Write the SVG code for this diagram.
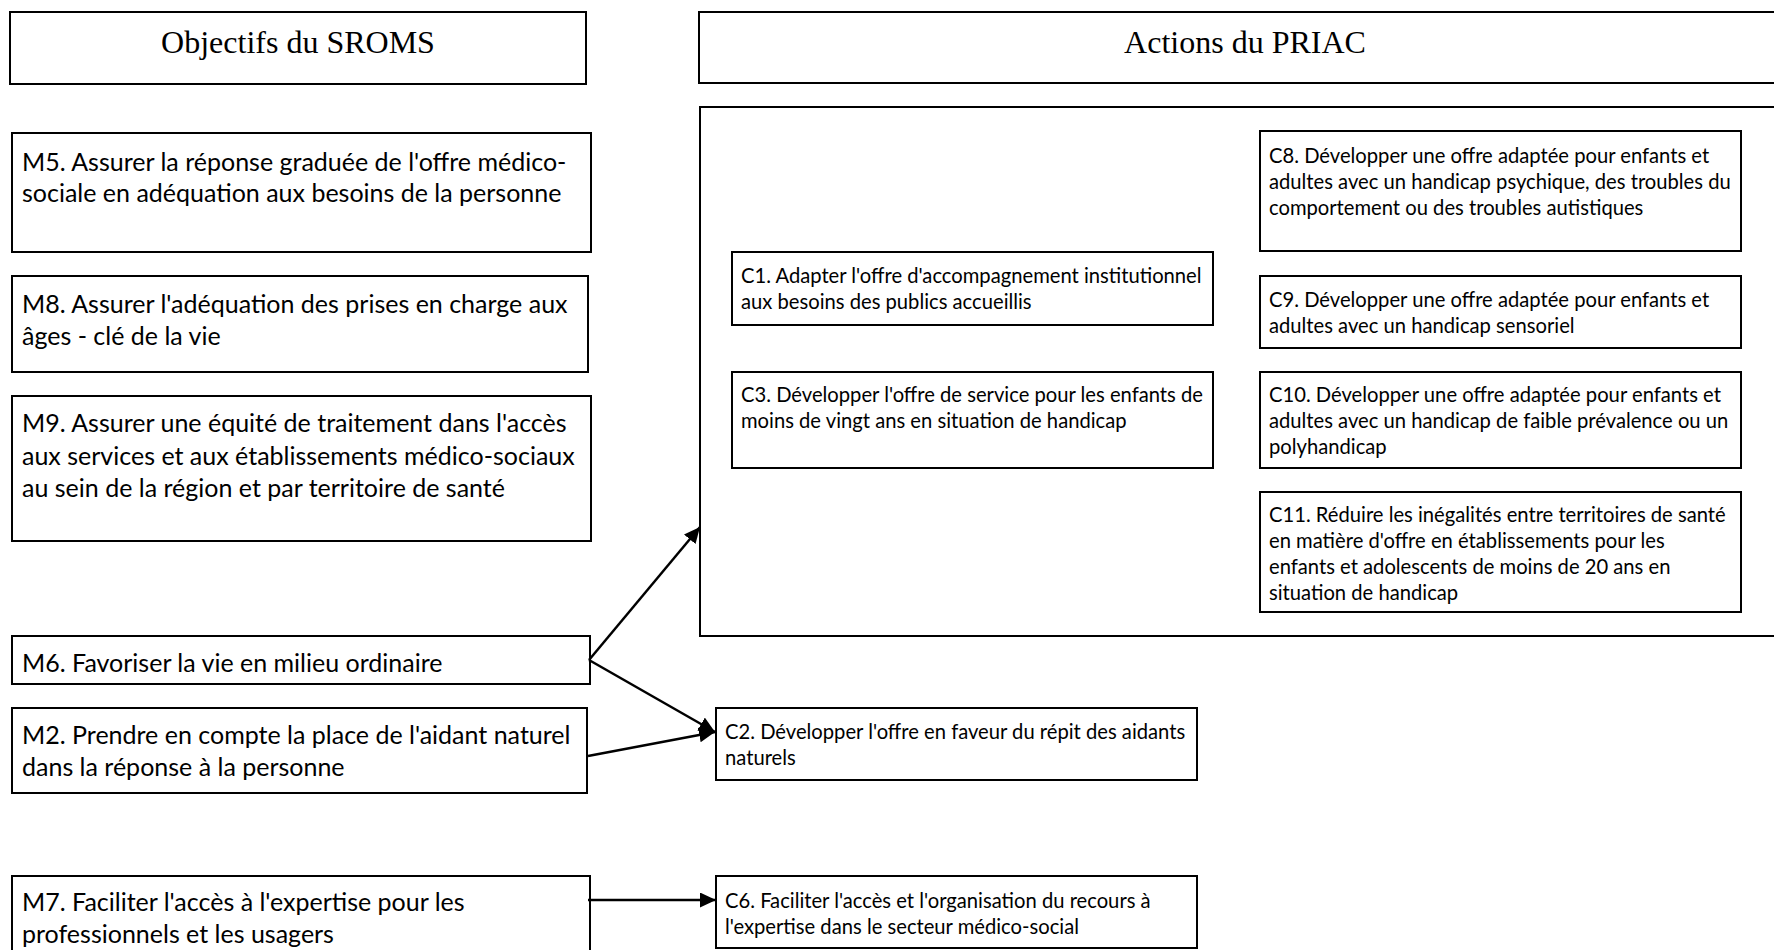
<svg xmlns="http://www.w3.org/2000/svg" width="1774" height="950" viewBox="0 0 1774 950">
<style>
.box{fill:#fff;stroke:#000;stroke-width:2}
.title{font-family:"Liberation Serif","Times New Roman",serif;font-size:32px;fill:#000;text-anchor:middle}
.m{font-family:Lato,"Liberation Sans",sans-serif;font-size:25px;fill:#000}
.c{font-family:Lato,"Liberation Sans",sans-serif;font-size:20.2px;fill:#000}
.conn{fill:none;stroke:#000;stroke-width:2.5}
</style>
<defs>
<marker id="ah" markerUnits="userSpaceOnUse" markerWidth="17" markerHeight="16" refX="16" refY="7.5" orient="auto">
<path d="M0,0 L16,7.5 L0,15 z" fill="#000"/>
</marker>
</defs>
<rect width="1774" height="950" fill="#fff"/>
<g id="title-sroms"><rect class="box" x="10" y="12" width="576" height="72"/><text class="title" x="298" y="53">Objectifs du SROMS</text></g>
<g id="title-priac"><rect class="box" x="699" y="12" width="1100" height="71"/><text class="title" x="1245" y="53">Actions du PRIAC</text></g>
<g id="container"><rect class="box" x="700" y="107" width="1100" height="529"/></g>
<g id="M5"><rect class="box" x="12" y="133" width="579" height="119"/><text class="m" x="22" y="171"><tspan x="22">M5. Assurer la réponse graduée de l'offre médico-</tspan><tspan x="22" dy="31">sociale en adéquation aux besoins de la personne</tspan></text></g>
<g id="M8"><rect class="box" x="12" y="276" width="576" height="96"/><text class="m" x="22" y="313"><tspan x="22">M8. Assurer l'adéquation des prises en charge aux</tspan><tspan x="22" dy="32">âges - clé de la vie</tspan></text></g>
<g id="M9"><rect class="box" x="12" y="396" width="579" height="145"/><text class="m" x="22" y="432"><tspan x="22">M9. Assurer une équité de traitement dans l'accès</tspan><tspan x="22" dy="32.5">aux services et aux établissements médico-sociaux</tspan><tspan x="22" dy="32.5">au sein de la région et par territoire de santé</tspan></text></g>
<g id="M6"><rect class="box" x="12" y="636" width="578" height="48"/><text class="m" x="22" y="672">M6. Favoriser la vie en milieu ordinaire</text></g>
<g id="M2"><rect class="box" x="12" y="708" width="575" height="85"/><text class="m" x="22" y="744"><tspan x="22">M2. Prendre en compte la place de l'aidant naturel</tspan><tspan x="22" dy="32">dans la réponse à la personne</tspan></text></g>
<g id="M7"><rect class="box" x="12" y="876" width="578" height="85"/><text class="m" x="22" y="911"><tspan x="22">M7. Faciliter l'accès à l'expertise pour les</tspan><tspan x="22" dy="32">professionnels et les usagers</tspan></text></g>
<g id="C1"><rect class="box" x="732" y="252" width="481" height="73"/><text class="c" x="741" y="283"><tspan x="741">C1. Adapter l'offre d'accompagnement institutionnel</tspan><tspan x="741" dy="26">aux besoins des publics accueillis</tspan></text></g>
<g id="C3"><rect class="box" x="732" y="372" width="481" height="96"/><text class="c" x="741" y="402"><tspan x="741">C3. Développer l'offre de service pour les enfants de</tspan><tspan x="741" dy="26">moins de vingt ans en situation de handicap</tspan></text></g>
<g id="C8"><rect class="box" x="1260" y="131" width="481" height="120"/><text class="c" x="1269" y="163"><tspan x="1269">C8. Développer une offre adaptée pour enfants et</tspan><tspan x="1269" dy="26">adultes avec un handicap psychique, des troubles du</tspan><tspan x="1269" dy="26">comportement ou des troubles autistiques</tspan></text></g>
<g id="C9"><rect class="box" x="1260" y="276" width="481" height="72"/><text class="c" x="1269" y="307"><tspan x="1269">C9. Développer une offre adaptée pour enfants et</tspan><tspan x="1269" dy="26">adultes avec un handicap sensoriel</tspan></text></g>
<g id="C10"><rect class="box" x="1260" y="372" width="481" height="96"/><text class="c" x="1269" y="402"><tspan x="1269">C10. Développer une offre adaptée pour enfants et</tspan><tspan x="1269" dy="26">adultes avec un handicap de faible prévalence ou un</tspan><tspan x="1269" dy="26">polyhandicap</tspan></text></g>
<g id="C11"><rect class="box" x="1260" y="492" width="481" height="120"/><text class="c" x="1269" y="522"><tspan x="1269">C11. Réduire les inégalités entre territoires de santé</tspan><tspan x="1269" dy="26">en matière d'offre en établissements pour les</tspan><tspan x="1269" dy="26">enfants et adolescents de moins de 20 ans en</tspan><tspan x="1269" dy="26">situation de handicap</tspan></text></g>
<g id="C2"><rect class="box" x="716" y="708" width="481" height="72"/><text class="c" x="725" y="739"><tspan x="725">C2. Développer l'offre en faveur du répit des aidants</tspan><tspan x="725" dy="26">naturels</tspan></text></g>
<g id="C6"><rect class="box" x="716" y="876" width="481" height="72"/><text class="c" x="725" y="908"><tspan x="725">C6. Faciliter l'accès et l'organisation du recours à</tspan><tspan x="725" dy="26">l'expertise dans le secteur médico-social</tspan></text></g>
<g id="connectors">
<line class="conn" x1="589" y1="660" x2="700" y2="527" marker-end="url(#ah)"/>
<line class="conn" x1="589" y1="660" x2="715" y2="732" marker-end="url(#ah)"/>
<line class="conn" x1="588" y1="756" x2="715" y2="732" marker-end="url(#ah)"/>
<line class="conn" x1="588" y1="900" x2="716" y2="900" marker-end="url(#ah)"/>
</g>
</svg>
